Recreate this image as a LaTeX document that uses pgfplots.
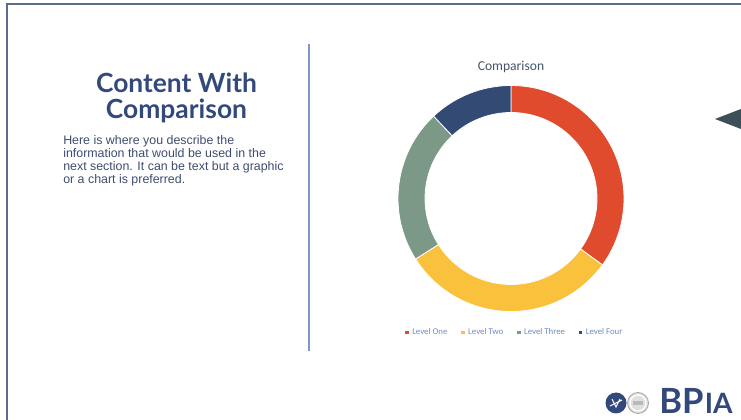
\documentclass[border=0pt]{standalone}
\usepackage{pgfplots}
\pgfplotsset{compat=1.18}
\usepackage{pgfplotstable}
\usepackage{fontspec}
\setmainfont{Liberation Sans}
\newfontfamily\carlito{Carlito}
\newfontfamily\lato{Lato}
\definecolor{c0}{HTML}{E04B2E}
\definecolor{c1}{HTML}{F9C13C}
\definecolor{c2}{HTML}{7C9886}
\definecolor{c3}{HTML}{334A75}
\definecolor{framec}{HTML}{5B6C8E}
\definecolor{dividerc}{HTML}{8096C4}
\definecolor{headc}{HTML}{34497B}
\definecolor{bodyc}{HTML}{3D4C70}
\definecolor{ttlc}{HTML}{44546A}
\definecolor{legc}{HTML}{6F8AC8}
\definecolor{tric}{HTML}{3D4F58}
\definecolor{logoc}{HTML}{34497B}

\pgfplotstableread{
label value
{Level One} 35
{Level Two} 31
{Level Three} 22
{Level Four} 12
}\donutdata

\begin{document}
\begin{tikzpicture}
\begin{scope}[x=0.75pt,y=0.75pt]
\path[use as bounding box] (0,0) rectangle (741,420);
% slide frame
\draw[framec, line width=1.5pt] (6.5,0) -- (6.5,415.5) -- (741,415.5);
% divider
\draw[dividerc, line width=1.1pt] (309,376) -- (309,69);
% heading
\node[headc, font=\lato\bfseries\fontsize{19.8}{20}\selectfont, anchor=base] at (176.5,327) {Content With};
\node[headc, font=\lato\bfseries\fontsize{19.8}{20}\selectfont, anchor=base] at (176.5,301) {Comparison};
% body
\begin{scope}[every node/.style={bodyc, font=\fontsize{9.3}{9.8}\selectfont, anchor=base west, inner sep=0pt}]
\node at (63,275) {Here is where you describe the};
\node at (63,262) {information that would be used in the};
\node at (63,249) {next section. It can be text but a graphic};
\node at (63,236) {or a chart is preferred.};
\end{scope}
% right triangle
\fill[tric] (715,301) -- (741,311) -- (741,291) -- cycle;
% logo
\fill[logoc] (616,17) circle (10.5);
\draw[white, line width=0.8pt] (610,14) -- (622,20) (612,21) -- (616,13) -- (620,21);
\fill[gray!25] (638,17) circle (10.5);
\draw[gray!70, line width=0.6pt] (638,17) circle (10.5);
\draw[white, line width=1pt] (638,17) circle (8);
\fill[gray!55] (633,15) rectangle (643,19);
\node[logoc, font=\lato\bfseries\fontsize{26}{26}\selectfont, anchor=base west, inner sep=0pt] (bp) at (659,6) {BP};
\node[logoc, font=\lato\bfseries\fontsize{21}{21}\selectfont, anchor=base west, inner sep=0pt] at ([xshift=0.5pt]bp.base east) {IA};
\end{scope}

\begin{axis}[
  at={(383.25pt,166.125pt)}, anchor=center,
  scale only axis, width=203.4pt, height=203.4pt,
  xmin=-1.2, xmax=1.2, ymin=-1.2, ymax=1.2,
  hide axis,
  title={Comparison},
  title style={at={(0.5,0.941)}, anchor=base, font=\carlito\fontsize{10.2}{10.5}\selectfont, text=ttlc, inner sep=0pt},
  legend columns=4,
  legend style={draw=none, fill=none, at={(0.515,0.006)}, anchor=center,
    font=\carlito\fontsize{6.6}{7}\selectfont, text=legc, inner sep=0pt,
    /tikz/every even column/.append style={column sep=8.2pt},
    /tikz/every odd column/.append style={column sep=0.6pt}},
  legend image code/.code={\fill[#1] (0pt,-1.4pt) rectangle (2.8pt,1.4pt);},
]
\pgfplotstablegetrowsof{\donutdata}
\pgfmathtruncatemacro{\N}{\pgfplotsretval-1}
\def\cum{0}
\pgfplotsforeachungrouped \i in {0,...,\N}{
  \pgfplotstablegetelem{\i}{value}\of{\donutdata}
  \let\v\pgfplotsretval
  \pgfmathsetmacro{\a}{90-3.6*\cum}
  \pgfmathsetmacro{\b}{90-3.6*(\cum+\v)}
  \pgfmathsetmacro{\cum}{\cum+\v}
  \edef\temp{\noexpand\filldraw[fill=c\i, draw=white, line width=0.6pt]
    (axis cs:{cos(\a)},{sin(\a)}) arc[start angle=\a, end angle=\b, radius=84.75pt]
    -- (axis cs:{0.761*cos(\b)},{0.761*sin(\b)}) arc[start angle=\b, end angle=\a, radius=64.5pt] -- cycle;}
  \temp
}
\addlegendimage{fill=c0, draw=none}\addlegendentry{Level One}
\addlegendimage{fill=c1, draw=none}\addlegendentry{Level Two}
\addlegendimage{fill=c2, draw=none}\addlegendentry{Level Three}
\addlegendimage{fill=c3, draw=none}\addlegendentry{Level Four}
\end{axis}
\end{tikzpicture}
\end{document}
